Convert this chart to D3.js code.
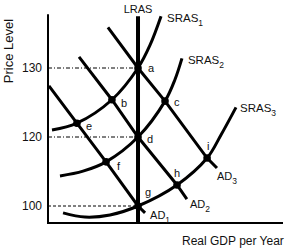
<!DOCTYPE html>
<html>
<head>
<meta charset="utf-8">
<script src="https://cdn.jsdelivr.net/npm/d3@7"></script>
<style>
  html, body { margin: 0; padding: 0; background: #fff; }
  text { font-family: "Liberation Sans", Arial, sans-serif; fill: #111; }
</style>
</head>
<body>
<svg id="chart" width="290" height="248"></svg>
<script>
// ---- data (Real GDP index 0-100, Price Level) ----
const priceTicks = [100, 120, 130];
const lrasGDP = 38.3;
const gdpRange = [0, 100];
const priceRange = [95.1, 137.8];

const points = [
  { id: "a", gdp: 38.3, price: 130.0 },
  { id: "b", gdp: 27.2, price: 125.4 },
  { id: "c", gdp: 49.8, price: 125.2 },
  { id: "d", gdp: 38.3, price: 120.0 },
  { id: "e", gdp: 12.3, price: 122.0 },
  { id: "f", gdp: 24.7, price: 112.8 },
  { id: "g", gdp: 38.3, price: 100.0 },
  { id: "h", gdp: 54.9, price: 106.1 },
  { id: "i", gdp: 67.7, price: 113.9 }
];

const ad1 = [[0.4, 127.4], [12.3, 122.0], [24.7, 112.8], [38.3, 100.0], [41.3, 98.0]];
const ad2 = [[13.2, 131.6], [27.2, 125.4], [38.3, 120.0], [54.9, 106.1], [59.1, 102.0]];
const ad3 = [[25.5, 135.9], [38.3, 130.0], [49.8, 125.2], [67.7, 113.9], [71.9, 111.0]];

const sras1 = [[1.7, 121.0], [12.3, 122.0], [27.2, 125.4], [38.3, 130.0], [43.4, 133.3], [48.1, 137.5]];
const sras2 = [[5.1, 108.7], [14.9, 110.1], [24.7, 112.8], [38.3, 120.0], [49.8, 125.2], [54.0, 128.3], [57.0, 131.4]];
const sras3 = [[6.4, 98.0], [15.7, 96.8], [26.4, 97.4], [38.3, 100.0], [54.9, 106.1], [67.7, 113.9], [73.6, 120.3], [80.0, 124.3]];

// ---- scales ----
const svg = d3.select("#chart");
const x = d3.scaleLinear().domain(gdpRange).range([48, 283]);
// price axis is drawn with evenly spaced (not proportional) ticks
const y = d3.scaleLinear().domain(priceTicks).range([206, 137, 68]);

// ---- guide lines ----
const guides = [
  { p: 130, dash: "4,2,1,2" },
  { p: 120, dash: "4,2,1,2" },
  { p: 100, dash: "3,2" }
];
svg.selectAll("line.guide").data(guides).enter().append("line")
  .attr("x1", x(0)).attr("x2", x(lrasGDP))
  .attr("y1", d => y(d.p)).attr("y2", d => y(d.p))
  .attr("stroke", "#000").attr("stroke-width", 1)
  .attr("stroke-dasharray", d => d.dash);

// ---- axes ----
svg.append("line")
  .attr("x1", x(0)).attr("x2", x(0))
  .attr("y1", y(priceRange[1])).attr("y2", y(priceRange[0]) + 1)
  .attr("stroke", "#000").attr("stroke-width", 2);
svg.append("line")
  .attr("x1", x(0) - 1).attr("x2", x(gdpRange[1]))
  .attr("y1", y(priceRange[0])).attr("y2", y(priceRange[0]))
  .attr("stroke", "#000").attr("stroke-width", 2);

const yAxis = svg.append("g")
  .attr("transform", `translate(${x(0) - 1},0)`)
  .call(d3.axisLeft(y).tickValues(priceTicks).tickSize(0).tickPadding(5).tickFormat(d3.format("d")));
yAxis.select(".domain").remove();
yAxis.selectAll("text")
  .style("font-family", '"Liberation Sans", Arial, sans-serif')
  .style("font-size", "12px").attr("fill", "#111");

svg.append("text")
  .attr("transform", `translate(13,51) rotate(-90)`)
  .attr("text-anchor", "middle")
  .style("font-size", "13px")
  .text("Price Level");

svg.append("text")
  .attr("x", 182).attr("y", 245)
  .style("font-size", "12px")
  .text("Real GDP per Year");

// ---- LRAS ----
svg.append("line")
  .attr("x1", x(lrasGDP)).attr("x2", x(lrasGDP))
  .attr("y1", y(priceRange[1]) + 2).attr("y2", y(priceRange[0]))
  .attr("stroke", "#000").attr("stroke-width", 4);
svg.append("text")
  .attr("x", x(lrasGDP)).attr("y", 13)
  .attr("text-anchor", "middle")
  .style("font-size", "11px")
  .text("LRAS");

// ---- curves ----
const straight = d3.line().x(d => x(d[0])).y(d => y(d[1]));
const smooth = d3.line().x(d => x(d[0])).y(d => y(d[1])).curve(d3.curveCatmullRom.alpha(0.5));

const curves = [
  { data: ad1, gen: straight, name: "AD", sub: "1", dx: 5, dy: 6, size: 11 },
  { data: ad2, gen: straight, name: "AD", sub: "2", dx: 3, dy: 9, size: 11 },
  { data: ad3, gen: straight, name: "AD", sub: "3", dx: 0, dy: 12, size: 11 },
  { data: sras1, gen: smooth, name: "SRAS", sub: "1", dx: 6, dy: 6, size: 11.5 },
  { data: sras2, gen: smooth, name: "SRAS", sub: "2", dx: 6, dy: 6, size: 11.5 },
  { data: sras3, gen: smooth, name: "SRAS", sub: "3", dx: 4, dy: 5, size: 11.5 }
];

curves.forEach(c => {
  svg.append("path")
    .attr("d", c.gen(c.data))
    .attr("fill", "none").attr("stroke", "#000")
    .attr("stroke-width", 3).attr("stroke-linecap", "butt");
  const end = c.data[c.data.length - 1];
  const t = svg.append("text")
    .attr("x", x(end[0]) + c.dx).attr("y", y(end[1]) + c.dy)
    .style("font-size", c.size + "px");
  t.append("tspan").text(c.name);
  t.append("tspan").attr("dy", 4).style("font-size", "8.5px").text(c.sub);
});

// ---- intersection points ----
const labelOffset = {
  a: [10, 4], b: [9, 7], c: [9, 5], d: [9, 6], e: [9, 7],
  f: [11, 8], g: [7, -10], h: [-3, -8], i: [0, -8]
};
svg.selectAll("circle.pt").data(points).enter().append("circle")
  .attr("cx", d => x(d.gdp)).attr("cy", d => y(d.price))
  .attr("r", 3.8).attr("fill", "#000");
svg.selectAll("text.pt").data(points).enter().append("text")
  .attr("x", d => x(d.gdp) + labelOffset[d.id][0])
  .attr("y", d => y(d.price) + labelOffset[d.id][1])
  .style("font-size", "11px")
  .text(d => d.id);
</script>
</body>
</html>
